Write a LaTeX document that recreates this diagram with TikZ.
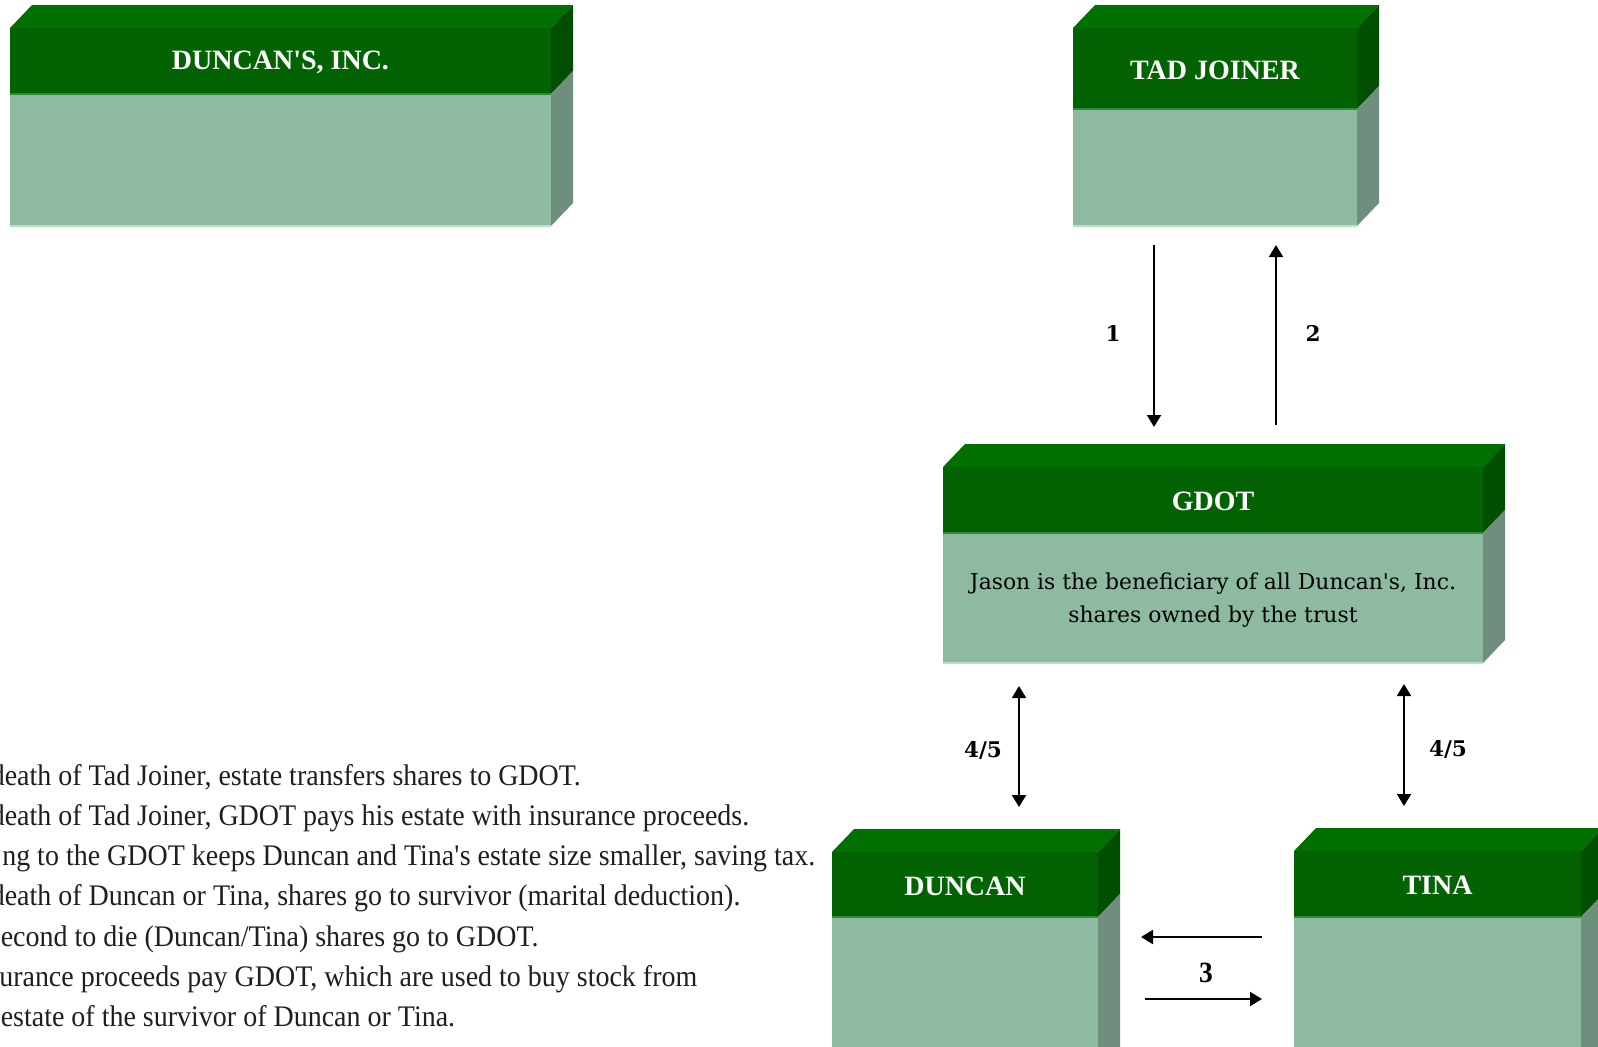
\documentclass[tikz,border=0pt]{standalone}
\usepackage{fontspec}
\setmainfont{Liberation Serif}
\newfontfamily\notefont[FakeStretch=0.937]{Liberation Serif}
\newfontfamily\bodyfont{DejaVu Serif}
\usetikzlibrary{arrows.meta}

\definecolor{topface}{HTML}{007000}
\definecolor{headfront}{HTML}{036303}
\definecolor{headside}{HTML}{004E00}
\definecolor{bodyfront}{HTML}{8EBAA1}
\definecolor{bodyside}{HTML}{6E8F7D}
\definecolor{bodyedge}{HTML}{B4E4C8}
\definecolor{seam}{HTML}{2E8B3E}

\tikzset{
  headtext/.style={text=white, inner sep=0pt, font=\fontsize{21}{25}\selectfont\bfseries},
  bodytext/.style={text=black, inner sep=0pt, align=center, font=\bodyfont\fontsize{16.4}{25.2}\selectfont},
  numlabel/.style={inner sep=0pt, font=\bodyfont\bfseries\fontsize{16.2}{18}\selectfont},
  notelabel/.style={inner sep=0pt, font=\notefont\bfseries\fontsize{22}{24}\selectfont},
  noteline/.style={anchor=base west, inner sep=0pt, text=black!88, font=\notefont\fontsize{22.4}{28}\selectfont},
  flow/.style={line width=1.5pt, -{Triangle[length=9pt,width=10.5pt]}},
  twoway/.style={line width=1.5pt, {Triangle[length=9pt,width=10.5pt]}-{Triangle[length=9pt,width=10.5pt]}}
}

% block with a green title band and a pale body, drawn with depth
% #1 name, #2 left, #3 right, #4 front top, #5 band bottom, #6 bottom, #7 title
\newcommand\greenbox[7]{%
  \fill[topface] (#2,#4) -- (#2+22,#4-23) -- (#3+22,#4-23) -- (#3,#4) -- cycle;
  \fill[headfront] (#2,#4) rectangle (#3,#5);
  \fill[headside] (#3,#4) -- (#3+22,#4-23) -- (#3+22,#5-23) -- (#3,#5) -- cycle;
  \fill[bodyfront] (#2,#5) rectangle (#3,#6);
  \fill[bodyside] (#3,#5) -- (#3+22,#5-23) -- (#3+22,#6-23) -- (#3,#6) -- cycle;
  \draw[seam, line width=1pt] (#2,#5) -- (#3,#5);
  \draw[bodyedge, line width=1.5pt] (#2,#6) -- (#3,#6);
  \node[headtext] (#1) at ({(#2+#3)/2},{(#4+#5)/2+1.5}) {#7};
}

\begin{document}
\begin{tikzpicture}[x=0.75pt, y=-0.75pt]
\useasboundingbox (0,0) rectangle (1598,1046);
\clip (0,0) rectangle (1598,1046);

\greenbox{duncansinc}{10}{551}{28}{94}{226}{DUNCAN\textquotesingle S, INC.}
\greenbox{tad}{1073}{1357}{28}{109}{226}{TAD JOINER}
\greenbox{gdot}{943}{1483}{467}{533}{663}{GDOT}
\greenbox{duncan}{832}{1098}{852}{917}{1075}{DUNCAN}
\greenbox{tina}{1294}{1581}{851}{917}{1075}{TINA}

\node[bodytext] (gdotnote) at (1213,600)
  {Jason is the beneficiary of all Duncan\textquotesingle s, Inc.\\shares owned by the trust};

% connector ends
\coordinate (a1s) at (1154,245);  \coordinate (a1e) at (1154,427);
\coordinate (a2s) at (1276,425);  \coordinate (a2e) at (1276,245);
\coordinate (a4t) at (1019,686);  \coordinate (a4b) at (1019,807);
\coordinate (a5t) at (1404,684);  \coordinate (a5b) at (1404,806);
\coordinate (a3ts) at (1262,937); \coordinate (a3te) at (1141,937);
\coordinate (a3bs) at (1145,999); \coordinate (a3be) at (1262,999);

\draw[flow] (a1s) -- (a1e);
\draw[flow] (a2s) -- (a2e);
\draw[twoway] (a4t) -- (a4b);
\draw[twoway] (a5t) -- (a5b);
\draw[flow] (a3ts) -- (a3te);
\draw[flow] (a3bs) -- (a3be);

\node[numlabel] (l1) at (1113,333) {1};
\node[numlabel] (l2) at (1313,333) {2};
\node[numlabel] (l45a) at (983,750) {4/5};
\node[numlabel] (l45b) at (1448,749) {4/5};
\node[notelabel] (l3) at (1206,973) {3};

% explanatory notes
\node[noteline] (n1) at (-9.5,785) {death of Tad Joiner, estate transfers shares to GDOT.};
\node[noteline] (n2) at (-9.5,825.3) {death of Tad Joiner, GDOT pays his estate with insurance proceeds.};
\node[noteline] (n3) at (2,865.6) {ng to the GDOT keeps Duncan and Tina\textquotesingle s estate size smaller, saving tax.};
\node[noteline] (n4) at (-9.5,905.9) {death of Duncan or Tina, shares go to survivor (marital deduction).};
\node[noteline] (n5) at (0.5,946.2) {econd to die (Duncan/Tina) shares go to GDOT.};
\node[noteline] (n6) at (-1,986.5) {urance proceeds pay GDOT, which are used to buy stock from};
\node[noteline] (n7) at (0.5,1026.8) {estate of the survivor of Duncan or Tina.};
\end{tikzpicture}
\end{document}
